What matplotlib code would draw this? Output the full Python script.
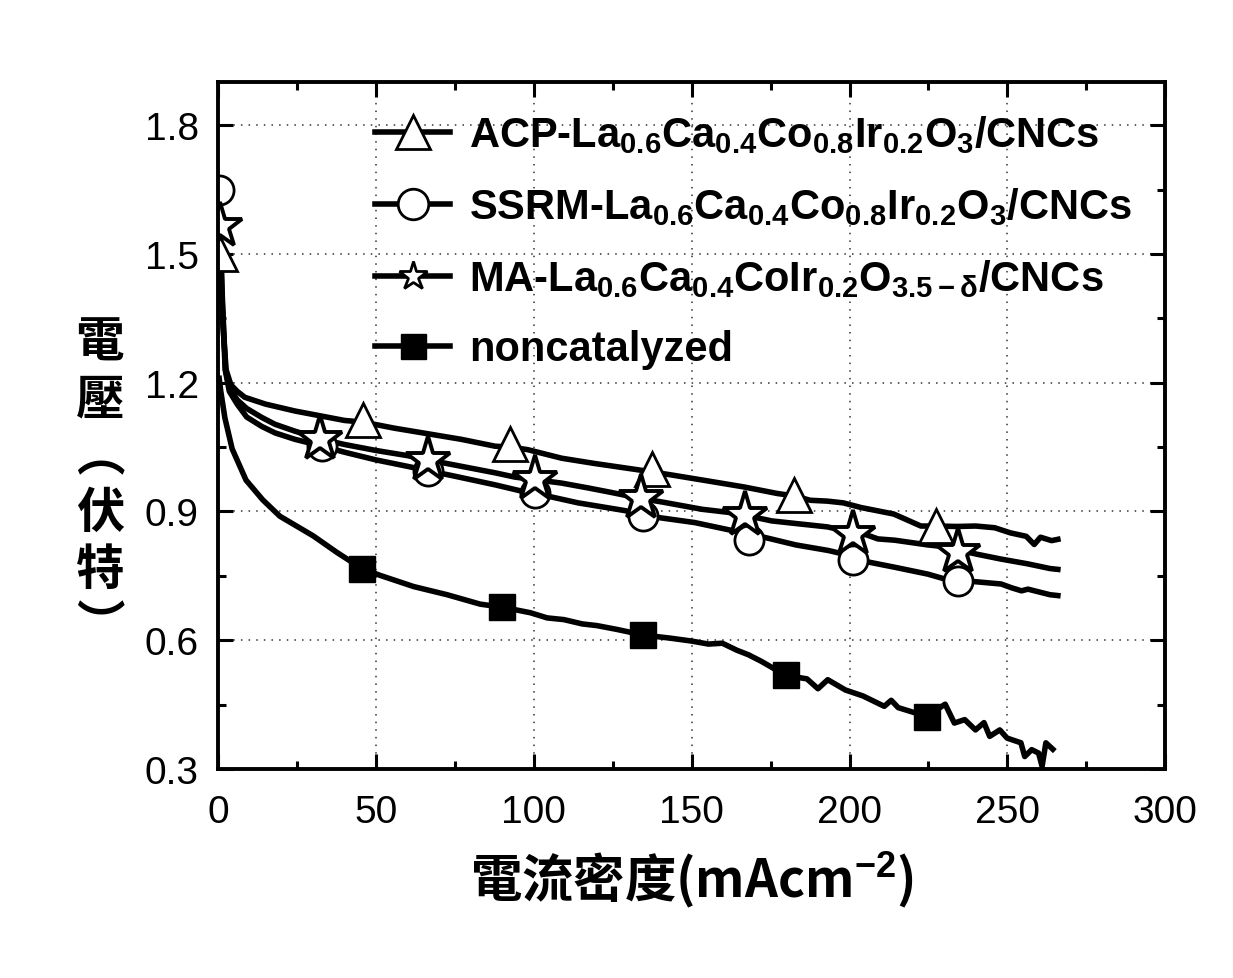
import matplotlib
matplotlib.use("Agg")
import matplotlib.pyplot as plt
from matplotlib.lines import Line2D
from matplotlib.ticker import MultipleLocator

# mathtext subscripts in bold sans, like the legend text
plt.rcParams['mathtext.fontset'] = 'custom'
plt.rcParams['mathtext.rm'] = 'Liberation Sans:bold'
plt.rcParams['mathtext.it'] = 'Liberation Sans:bold'
plt.rcParams['mathtext.bf'] = 'Liberation Sans:bold'
plt.rcParams['font.family'] = ['Liberation Sans', 'DejaVu Sans']

# ---- data (current density mA/cm2, voltage V) ----
acp_x = [0.5, 1.5, 2.5, 4, 6, 8.4, 15, 24.3, 40, 46, 55.8, 77, 87.7, 92.5, 98, 108.8,
         119, 133, 137.5, 143.6, 156, 166.6, 177, 182.5, 187.6, 193, 198, 203.7, 214,
         222.6, 227.5, 234, 240, 246, 251, 256, 258.5, 260.5, 264, 266]
acp_y = [1.50, 1.33, 1.23, 1.195, 1.18, 1.166, 1.15, 1.134, 1.112, 1.108, 1.094, 1.068,
         1.052, 1.050, 1.044, 1.024, 1.012, 0.997, 0.992, 0.985, 0.970, 0.957, 0.942,
         0.936, 0.926, 0.924, 0.920, 0.909, 0.894, 0.866, 0.866, 0.865, 0.866, 0.862,
         0.850, 0.842, 0.823, 0.840, 0.832, 0.835]
acp_mx = [0.5, 46, 92.5, 137.5, 182.5, 227.5]
acp_my = [1.50, 1.112, 1.056, 0.998, 0.938, 0.866]

ssrm_x = [0.3, 1.2, 2.2, 3.5, 6, 9, 13.8, 18, 24.3, 33, 40, 50, 60, 66.5, 75, 87.7, 98,
          100.5, 114, 128.8, 138.3, 151, 163.8, 172.3, 183, 193.3, 198.5, 204, 214.3,
          224.8, 230, 238.8, 248, 251.4, 254.5, 256.5, 263.5, 266]
ssrm_y = [1.65, 1.40, 1.23, 1.18, 1.15, 1.12, 1.098, 1.083, 1.068, 1.052, 1.038, 1.020,
          1.005, 0.995, 0.982, 0.962, 0.944, 0.942, 0.920, 0.902, 0.887, 0.874, 0.854,
          0.841, 0.822, 0.809, 0.800, 0.785, 0.770, 0.754, 0.743, 0.737, 0.731, 0.722,
          0.715, 0.719, 0.706, 0.704]
ssrm_mx = [0.3, 33, 66.5, 100.5, 134.5, 168, 201, 234.5]
ssrm_my = [1.65, 1.052, 0.995, 0.943, 0.889, 0.833, 0.787, 0.738]

ma_x = [0.5, 1.4, 2.3, 3.5, 6, 9, 13.8, 18, 24.3, 32.3, 40, 50, 60, 66.5, 75, 87.7, 94,
        100.5, 108.8, 117, 124.7, 134, 140.6, 153.3, 161.5, 167, 175.3, 182.8, 193,
        198.5, 204, 209, 214.3, 224.8, 230, 234.5, 240.6, 248, 256.4, 263.5, 266]
ma_y = [1.565, 1.38, 1.23, 1.19, 1.16, 1.14, 1.119, 1.103, 1.087, 1.069, 1.056, 1.042,
        1.030, 1.020, 1.008, 0.990, 0.980, 0.974, 0.966, 0.955, 0.944, 0.930, 0.922,
        0.905, 0.898, 0.891, 0.878, 0.872, 0.864, 0.855, 0.849, 0.836, 0.833, 0.822,
        0.818, 0.810, 0.800, 0.789, 0.778, 0.767, 0.765]
ma_mx = [0.5, 32.3, 66.5, 100.5, 134, 167, 201, 234.5]
ma_my = [1.565, 1.069, 1.020, 0.975, 0.931, 0.891, 0.847, 0.805]

non_x = [0.3, 0.8, 2.1, 4.4, 8.8, 14.1, 19.5, 24.8, 30.1, 37.5, 45.5, 51.3, 61.9, 72.5,
         83, 90, 98.9, 104.2, 109.5, 115.3, 120, 126.4, 134.7, 143, 150, 155.3, 159.7,
         164.2, 168, 172, 179.8, 186.5, 190, 193.1, 198.7, 204.3, 211, 213.2, 215.4,
         224.6, 227, 230.3, 233.2, 236.5, 239.9, 242.6, 244.4, 247.6, 249.9, 254.3,
         255.5, 257.7, 259.9, 261, 262.2, 264.4]
non_y = [1.21, 1.18, 1.118, 1.046, 0.973, 0.927, 0.889, 0.866, 0.843, 0.805, 0.767,
         0.751, 0.725, 0.706, 0.684, 0.677, 0.664, 0.652, 0.648, 0.638, 0.634, 0.625,
         0.612, 0.605, 0.598, 0.591, 0.593, 0.577, 0.566, 0.551, 0.518, 0.510, 0.487,
         0.508, 0.484, 0.470, 0.446, 0.460, 0.443, 0.422, 0.435, 0.451, 0.407, 0.415,
         0.391, 0.408, 0.376, 0.391, 0.372, 0.361, 0.329, 0.345, 0.337, 0.306, 0.361,
         0.346]
non_mx = [45.5, 90, 134.7, 179.8, 224.6]
non_my = [0.767, 0.677, 0.612, 0.518, 0.422]

labels = [r'ACP-La$_{0.6}$Ca$_{0.4}$Co$_{0.8}$Ir$_{0.2}$O$_{3}$/CNCs',
          r'SSRM-La$_{0.6}$Ca$_{0.4}$Co$_{0.8}$Ir$_{0.2}$O$_{3}$/CNCs',
          r'MA-La$_{0.6}$Ca$_{0.4}$CoIr$_{0.2}$O$_{3.5-\delta}$/CNCs',
          'noncatalyzed']

fig = plt.figure(figsize=(12.33, 9.79), dpi=100)
ax = fig.add_axes([0.177, 0.2135, 0.768, 0.7015])

lw = 4
# lines first, markers on top
ax.plot(non_x, non_y, color='k', lw=lw)
ax.plot(acp_x, acp_y, color='k', lw=lw)
ax.plot(ssrm_x, ssrm_y, color='k', lw=lw)
ax.plot(ma_x, ma_y, color='k', lw=lw)

ax.plot(acp_mx, acp_my, ls='none', marker='^', ms=25, mfc='white', mec='k', mew=2)
ax.plot(ssrm_mx, ssrm_my, ls='none', marker='o', ms=21, mfc='white', mec='k', mew=2)
ax.plot(ma_mx, ma_my, ls='none', marker='*', ms=34, mfc='white', mec='k', mew=2.8)
ax.plot(non_mx, non_my, ls='none', marker='s', ms=19, mfc='k', mec='k', mew=1)

ax.set_xlim(0, 300)
ax.set_ylim(0.3, 1.9)
ax.xaxis.set_major_locator(MultipleLocator(50))
ax.xaxis.set_minor_locator(MultipleLocator(25))
ax.yaxis.set_minor_locator(MultipleLocator(0.15))
ax.set_yticks([0.3, 0.6, 0.9, 1.2, 1.5, 1.8])

ax.tick_params(which='both', direction='in', top=True, right=True, width=2.2)
ax.tick_params(which='major', length=11, labelsize=28, pad=14)
ax.tick_params(which='minor', length=6)
ax.tick_params(axis='x', which='major', pad=18)
for s in ax.spines.values():
    s.set_linewidth(2.8)

ax.grid(True, which='major', color='0.2', lw=1.1, ls=(0, (1, 4)))
ax.set_axisbelow(True)

# legend with separate handle sizes
handles = [
    Line2D([], [], color='k', lw=lw, marker='^', ms=24, mfc='white', mec='k', mew=2),
    Line2D([], [], color='k', lw=lw, marker='o', ms=22, mfc='white', mec='k', mew=2),
    Line2D([], [], color='k', lw=lw, marker='*', ms=21, mfc='white', mec='k', mew=2),
    Line2D([], [], color='k', lw=lw, marker='s', ms=18, mfc='k', mec='k'),
]
leg = ax.legend(handles, labels, loc='upper left', bbox_to_anchor=(0.135, 0.997),
                frameon=False, handlelength=1.8, handletextpad=0.45,
                labelspacing=0.72, borderpad=0.2,
                prop={'family': 'Liberation Sans', 'weight': 'bold', 'size': 30})

ax.set_xlabel('電流密度(mAcm$^{-2}$)', family=['Noto Sans CJK TC', 'DejaVu Sans'],
              fontsize=37, fontweight='bold', labelpad=14)
fig.text(0.081, 0.5046, '電\n壓\n︵\n伏\n特\n︶', family=['Noto Sans CJK TC', 'DejaVu Sans'],
         fontsize=35, fontweight='bold', ha='center', va='center', linespacing=1.2)

fig.savefig('out.png', dpi=100)
